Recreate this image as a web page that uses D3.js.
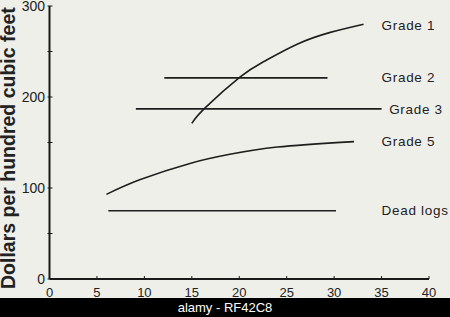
<!DOCTYPE html>
<html><head><meta charset="utf-8">
<script src="https://cdn.jsdelivr.net/npm/d3@7"></script>
<style>
html,body{margin:0;padding:0;background:#efefea;}
svg{display:block;}
text{font-family:"Liberation Sans",Arial,Helvetica,sans-serif;}
</style></head>
<body>
<svg id="c" width="450" height="317"></svg>
<script>
// Data
const xTicks = [0,5,10,15,20,25,30,35,40];
const yTicks = [0,100,200,300];
const yMinorTicks = [50,150,250];
const grade1X = [15.0,16.4,20.1,22.6,26.1,29.6,33.1];
const grade1Y = [171,188,222,239,258,271,280];
const grade2X = [12.1,29.3];
const grade2Y = [221,221];
const grade3X = [9.1,35.0];
const grade3Y = [187,187];
const grade5X = [6.0,9.5,14.8,19.0,24.0,32.1];
const grade5Y = [93,109,127,137,145,151];
const deadX = [6.2,30.2];
const deadY = [75,75];
const labels = ["Grade 1","Grade 2","Grade 3","Grade 5","Dead logs"];
const labelY = [279,222,187,152,76];
const labelX = [35.0,35.0,35.8,35.0,35.0];

const svg = d3.select("#c");
const x = d3.scaleLinear().domain([0,40]).range([49.5,429]);
const y = d3.scaleLinear().domain([0,300]).range([279,6]);

// axes
svg.append("line").attr("x1",x(0)).attr("x2",x(40)).attr("y1",y(0)).attr("y2",y(0))
  .attr("stroke","#1a1a1a").attr("stroke-width",2);
svg.append("line").attr("x1",x(0)).attr("x2",x(0)).attr("y1",y(0)).attr("y2",y(300))
  .attr("stroke","#1a1a1a").attr("stroke-width",2);

const xAxis = svg.append("g");
xAxis.selectAll("line").data(xTicks).join("line")
  .attr("x1",d=>x(d)).attr("x2",d=>x(d)).attr("y1",y(0)).attr("y2",y(0)-3)
  .attr("stroke","#1a1a1a").attr("stroke-width",1);
xAxis.selectAll("text").data(xTicks).join("text")
  .attr("x",d=>x(d)).attr("y",296.5).attr("text-anchor","middle")
  .attr("font-size",13).attr("fill","#222").text(d=>d);

const yAxis = svg.append("g");
yAxis.selectAll("line.maj").data(yTicks.concat(yMinorTicks)).join("line")
  .attr("x1",x(0)-2).attr("x2",x(0)+3).attr("y1",d=>y(d)).attr("y2",d=>y(d))
  .attr("stroke","#1a1a1a").attr("stroke-width",1);
yAxis.selectAll("text").data(yTicks).join("text")
  .attr("x",45).attr("y",d=>y(d)+5).attr("text-anchor","end")
  .attr("font-size",14).attr("fill","#222").text(d=>d);

svg.append("text")
  .attr("transform","translate(15,289) rotate(-90)")
  .attr("text-anchor","start").attr("font-size",19.5).attr("font-weight","bold")
  .attr("fill","#222").text("Dollars per hundred cubic feet");

// series
const line = d3.line().x(d=>x(d[0])).y(d=>y(d[1])).curve(d3.curveNatural);
const series = [[grade1X,grade1Y],[grade2X,grade2Y],[grade3X,grade3Y],[grade5X,grade5Y],[deadX,deadY]];
series.forEach(([xs,ys])=>{
  svg.append("path").datum(xs.map((v,i)=>[v,ys[i]]))
    .attr("d",line).attr("fill","none").attr("stroke","#1e1e1e").attr("stroke-width",1.6);
});

svg.selectAll("text.lab").data(labels).join("text")
  .attr("class","lab")
  .attr("x",(d,i)=>x(labelX[i])).attr("y",(d,i)=>y(labelY[i])+5)
  .attr("font-size",13.5).attr("letter-spacing",0.7).attr("fill","#222").text(d=>d);

// bottom band
svg.append("rect").attr("x",0).attr("y",298).attr("width",450).attr("height",19).attr("fill","#000");
svg.append("text").attr("x",225).attr("y",312).attr("text-anchor","middle")
  .attr("font-size",13).attr("fill","#fff").attr("font-family","'Open Sans',sans-serif")
  .text("alamy - RF42C8");
</script>
</body></html>
